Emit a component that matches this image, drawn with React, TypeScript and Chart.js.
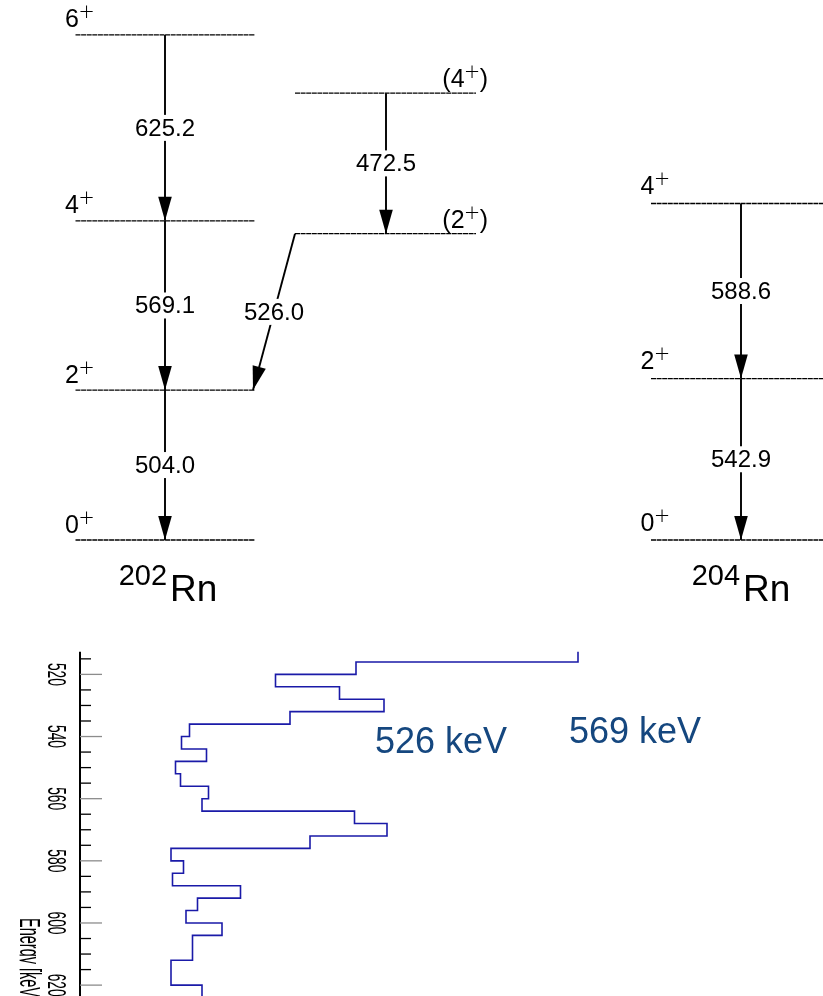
import React, { useEffect, useRef } from 'react';
import { Chart, registerables } from 'chart.js';

Chart.register(...registerables);

// ---------- level scheme: 202Rn ----------
const rn202Spins = ['0+', '2+', '4+', '6+'];
const rn202Gammas = [504.0, 569.1, 625.2]; // 2+→0+, 4+→2+, 6+→4+
const rn202SideSpins = ['(2+)', '(4+)'];
const rn202SideGammas = [526.0, 472.5]; // (2+)→2+, (4+)→(2+)

// ---------- level scheme: 204Rn ----------
const rn204Spins = ['0+', '2+', '4+'];
const rn204Gammas = [542.9, 588.6]; // 2+→0+, 4+→2+

const nucleusMass = ['202', '204'];
const nucleusSymbol = 'Rn';

// ---------- gated spectrum (4 keV bins) ----------
const binLow = [
  512, 516, 520, 524, 528, 532, 536, 540, 544, 548, 552, 556, 560, 564,
  568, 572, 576, 580, 584, 588, 592, 596, 600, 604, 608, 612, 616, 620,
];
const binCounts = [
  99.6, 55.2, 39.1, 51.9, 60.8, 42.0, 21.9, 20.3, 25.3, 19.1, 20.1, 25.7, 24.4, 54.9,
  61.4, 46.0, 18.2, 20.7, 18.5, 32.1, 23.5, 21.2, 28.4, 22.5, 22.5, 18.2, 18.2, 24.4,
];
const BIN_WIDTH = 4;
const energyTicks = [520, 540, 560, 580, 600, 620];
const MINOR_STEP = 5;
const peakLabels = ['526 keV', '569 keV'];
const energyTitle = 'Energy [keV]';

const FONT = '"Liberation Sans", Arial, Helvetica, sans-serif';
const W = 823;
const TOP_H = 620;
const BOTTOM_H = 996 - TOP_H;

const cumulative = (gammas: number[], start = 0) => {
  const out = [start];
  gammas.forEach((g) => out.push(+(out[out.length - 1] + g).toFixed(1)));
  return out;
};

type Level = { e: number; x0: number; x1: number; spin: string; side: 'left' | 'right'; dy: number };
type Gamma = { x0: number; e0: number; x1: number; e1: number; label: string };

function buildScheme() {
  // column layout (horizontal placement of the bands)
  const main = { x0: 75.5, x1: 255, gx: 165 };
  const side = { x0: 295, x1: 476, gx: 386 };
  const col204 = { x0: 651, x1: 860, gx: 741 };

  const e202 = cumulative(rn202Gammas);
  const eSide = cumulative(rn202SideGammas.slice(1), e202[1] + rn202SideGammas[0]);
  const e204 = cumulative(rn204Gammas);

  const levels: Level[] = [];
  const gammas: Gamma[] = [];

  e202.forEach((e, i) =>
    levels.push({ e, x0: main.x0, x1: main.x1, spin: rn202Spins[i], side: 'left', dy: 7.5 })
  );
  eSide.forEach((e, i) =>
    levels.push({ e, x0: side.x0, x1: side.x1, spin: rn202SideSpins[i], side: 'right', dy: 6 })
  );
  e204.forEach((e, i) =>
    levels.push({ e, x0: col204.x0, x1: col204.x1, spin: rn204Spins[i], side: 'left', dy: 9.5 })
  );

  rn202Gammas.forEach((g, i) =>
    gammas.push({ x0: main.gx, e0: e202[i + 1], x1: main.gx, e1: e202[i], label: g.toFixed(1) })
  );
  gammas.push({
    x0: side.x0, e0: eSide[0], x1: main.x1 - 2, e1: e202[1], label: rn202SideGammas[0].toFixed(1),
  });
  gammas.push({
    x0: side.gx, e0: eSide[1], x1: side.gx, e1: eSide[0], label: rn202SideGammas[1].toFixed(1),
  });
  rn204Gammas.forEach((g, i) =>
    gammas.push({ x0: col204.gx, e0: e204[i + 1], x1: col204.gx, e1: e204[i], label: g.toFixed(1) })
  );

  const nuclei = [
    { x: main.gx + 3, mass: nucleusMass[0] },
    { x: col204.gx, mass: nucleusMass[1] },
  ];
  return { levels, gammas, nuclei };
}

function drawSpin(ctx: CanvasRenderingContext2D, label: string, x: number, base: number, align: 'left' | 'right') {
  const m = label.match(/^(\(?)(\d+)\+(\)?)$/);
  if (!m) return;
  const head = m[1] + m[2];
  const tail = m[3];
  const mainFont = `25px ${FONT}`;
  const supFont = `300 26px Lato, ${FONT}`;
  ctx.font = mainFont;
  const w1 = ctx.measureText(head).width;
  const w3 = ctx.measureText(tail).width;
  ctx.font = supFont;
  const w2 = ctx.measureText('+').width;
  const sx = align === 'right' ? x - (w1 + w2 + w3) : x;
  ctx.textAlign = 'left';
  ctx.textBaseline = 'alphabetic';
  ctx.fillStyle = '#000';
  ctx.font = mainFont;
  ctx.fillText(head, sx, base);
  ctx.font = supFont;
  ctx.fillText('+', sx + w1, base - 7);
  ctx.font = mainFont;
  ctx.fillText(tail, sx + w1 + w2, base);
}

function LevelScheme() {
  const ref = useRef<HTMLCanvasElement>(null);
  useEffect(() => {
    const { levels, gammas, nuclei } = buildScheme();
    const datasets: any[] = [];
    levels.forEach((lv) =>
      datasets.push({
        kind: 'level',
        data: [{ x: lv.x0, y: lv.e }, { x: lv.x1, y: lv.e }],
        borderColor: '#000',
        borderWidth: 1.3,
        borderDash: [5, 0.6],
        showLine: true,
        pointRadius: 0,
        clip: false,
      })
    );
    gammas.forEach((g) =>
      datasets.push({
        kind: 'gamma',
        gammaLabel: g.label,
        data: [{ x: g.x0, y: g.e0 }, { x: g.x1, y: g.e1 }],
        borderColor: '#000',
        borderWidth: 1.9,
        showLine: true,
        pointRadius: 0,
        clip: false,
      })
    );

    const schemePlugin = {
      id: 'schemeDecor',
      afterDatasetsDraw(chart: any) {
        const { ctx } = chart;
        const xs = chart.scales.x;
        const ys = chart.scales.y;
        ctx.save();
        chart.data.datasets.forEach((ds: any, i: number) => {
          if (ds.kind !== 'gamma') return;
          const pts = chart.getDatasetMeta(i).data;
          const a = pts[0];
          const b = pts[1];
          // arrowhead at the lower level
          const ang = Math.atan2(b.y - a.y, b.x - a.x);
          const L = 24;
          const hw = 6.8;
          ctx.fillStyle = '#000';
          ctx.beginPath();
          ctx.moveTo(b.x, b.y);
          ctx.lineTo(b.x - L * Math.cos(ang) - hw * Math.sin(ang), b.y - L * Math.sin(ang) + hw * Math.cos(ang));
          ctx.lineTo(b.x - L * Math.cos(ang) + hw * Math.sin(ang), b.y - L * Math.sin(ang) - hw * Math.cos(ang));
          ctx.closePath();
          ctx.fill();
          // energy label on the line
          const mx = (a.x + b.x) / 2;
          const my = (a.y + b.y) / 2;
          ctx.font = `24px ${FONT}`;
          const tw = ctx.measureText(ds.gammaLabel).width;
          ctx.fillStyle = '#fff';
          ctx.fillRect(mx - tw / 2 - 2, my - 13, tw + 4, 26);
          ctx.fillStyle = '#000';
          ctx.textAlign = 'center';
          ctx.textBaseline = 'middle';
          ctx.fillText(ds.gammaLabel, mx, my + 1);
        });
        levels.forEach((lv) => {
          const y = ys.getPixelForValue(lv.e);
          if (lv.side === 'left') drawSpin(ctx, lv.spin, xs.getPixelForValue(lv.x0) - 10.5, y - lv.dy, 'left');
          else drawSpin(ctx, lv.spin, xs.getPixelForValue(lv.x1) + 12, y - lv.dy, 'right');
        });
        nuclei.forEach((n) => {
          const supF = `29px ${FONT}`;
          const symF = `37px ${FONT}`;
          ctx.font = supF;
          const w1 = ctx.measureText(n.mass).width;
          ctx.font = symF;
          const w2 = ctx.measureText(nucleusSymbol).width;
          const gap = 3;
          const cx = xs.getPixelForValue(n.x);
          const sx = cx - (w1 + gap + w2) / 2;
          const base = ys.getPixelForValue(0) + 61;
          ctx.fillStyle = '#000';
          ctx.textAlign = 'left';
          ctx.textBaseline = 'alphabetic';
          ctx.font = supF;
          ctx.fillText(n.mass, sx, base - 16);
          ctx.font = symF;
          ctx.fillText(nucleusSymbol, sx + w1 + gap, base);
        });
        ctx.restore();
      },
    };

    const chart = new Chart(ref.current!, {
      type: 'scatter',
      data: { datasets },
      options: {
        animation: false,
        responsive: false,
        events: [],
        layout: { padding: { left: 0, right: 0, top: 0, bottom: TOP_H - 540 } },
        plugins: { legend: { display: false }, tooltip: { enabled: false } },
        scales: {
          x: { type: 'linear', min: 0, max: W, display: false },
          y: { type: 'linear', min: 0, max: 1815.7, display: false },
        },
      },
      plugins: [schemePlugin],
    });
    return () => chart.destroy();
  }, []);
  return <canvas ref={ref} width={W} height={TOP_H} style={{ position: 'absolute', left: 0, top: 0 }} />;
}

function Spectrum() {
  const ref = useRef<HTMLCanvasElement>(null);
  useEffect(() => {
    const steps = binLow.flatMap((lo, i) => [
      { x: binCounts[i], y: lo },
      { x: binCounts[i], y: lo + BIN_WIDTH },
    ]);

    const axisPlugin = {
      id: 'energyAxis',
      afterDraw(chart: any) {
        const { ctx, chartArea } = chart;
        const ys = chart.scales.y;
        const ax = chartArea.left;
        ctx.save();
        // axis line
        ctx.strokeStyle = '#000';
        ctx.lineWidth = 2;
        ctx.beginPath();
        ctx.moveTo(ax, chartArea.top);
        ctx.lineTo(ax, chartArea.bottom + 2);
        ctx.stroke();
        // ticks pointing into the plot
        ctx.lineWidth = 1.3;
        const first = Math.ceil(ys.min / MINOR_STEP) * MINOR_STEP;
        for (let v = first; v <= ys.max; v += MINOR_STEP) {
          const y = ys.getPixelForValue(v);
          const major = energyTicks.includes(v);
          ctx.strokeStyle = major ? '#8c8c8c' : '#000';
          ctx.beginPath();
          ctx.moveTo(ax, y);
          ctx.lineTo(ax + (major ? 22 : 11), y);
          ctx.stroke();
        }
        // rotated, condensed tick labels
        ctx.fillStyle = '#000';
        ctx.font = `26px ${FONT}`;
        ctx.textAlign = 'center';
        ctx.textBaseline = 'alphabetic';
        energyTicks.forEach((v) => {
          const y = ys.getPixelForValue(v);
          ctx.save();
          ctx.translate(ax - 32, y);
          ctx.rotate(Math.PI / 2);
          ctx.scale(0.53, 1);
          ctx.fillText(String(v), 0, 0);
          ctx.restore();
        });
        // axis title, cut at the left border
        ctx.save();
        ctx.beginPath();
        ctx.rect(19.6, 0, 100, chart.height);
        ctx.clip();
        ctx.font = `29px ${FONT}`;
        ctx.textAlign = 'left';
        ctx.translate(19.5, ys.getPixelForValue(598.4));
        ctx.rotate(Math.PI / 2);
        ctx.scale(0.5, 1);
        ctx.fillText(energyTitle, 0, 0);
        ctx.restore();
        // peak annotations
        ctx.fillStyle = '#15477f';
        ctx.font = `36px ${FONT}`;
        ctx.textAlign = 'left';
        ctx.fillText(peakLabels[0], 375, 133);
        ctx.fillText(peakLabels[1], 569, 123);
        ctx.restore();
      },
    };

    const chart = new Chart(ref.current!, {
      type: 'scatter',
      data: {
        datasets: [
          {
            data: steps,
            showLine: true,
            borderColor: '#1a1aa8',
            borderWidth: 1.6,
            pointRadius: 0,
            tension: 0,
          },
        ],
      },
      options: {
        animation: false,
        responsive: false,
        events: [],
        layout: { padding: { left: 80, right: 0, top: 31.7, bottom: 0 } },
        plugins: { legend: { display: false }, tooltip: { enabled: false } },
        scales: {
          x: { type: 'linear', min: 0, max: 148.6, display: false },
          y: { type: 'linear', min: 512.7, max: 623.5, reverse: true, display: false },
        },
      },
      plugins: [axisPlugin],
    });
    return () => chart.destroy();
  }, []);
  return <canvas ref={ref} width={W} height={BOTTOM_H} style={{ position: 'absolute', left: 0, top: TOP_H }} />;
}

export default function App() {
  useEffect(() => {
    document.body.style.margin = '0';
  }, []);
  return (
    <div style={{ position: 'relative', width: W, height: 996, overflow: 'hidden', background: '#fff' }}>
      <LevelScheme />
      <Spectrum />
    </div>
  );
}
